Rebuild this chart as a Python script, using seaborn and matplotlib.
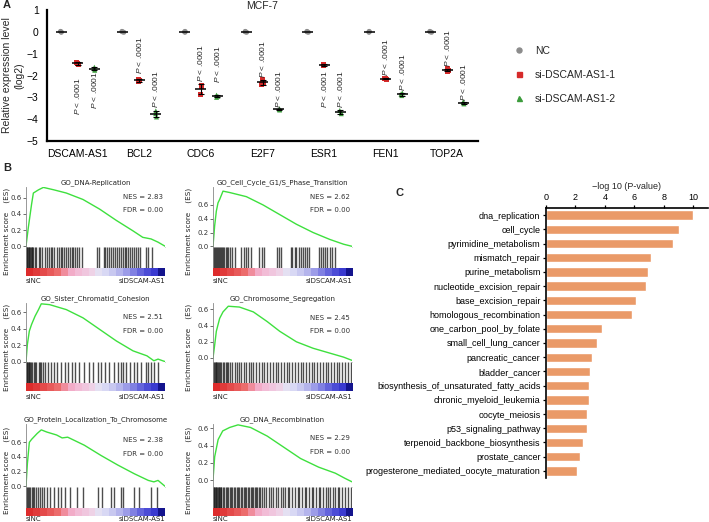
import numpy as np
import pandas as pd
import matplotlib
matplotlib.use("Agg")
import matplotlib.pyplot as plt
from matplotlib.colors import ListedColormap
from matplotlib.lines import Line2D
import seaborn as sns

sns.set_theme(style="white")
plt.rcParams['font.family'] = ['Liberation Sans', 'DejaVu Sans']
plt.rcParams['mathtext.fontset'] = 'custom'
plt.rcParams['mathtext.it'] = 'Liberation Sans:italic'
plt.rcParams['mathtext.rm'] = 'Liberation Sans'

# ---------------- Panel A data ----------------
genes = ["DSCAM-AS1", "BCL2", "CDC6", "E2F7", "ESR1", "FEN1", "TOP2A"]
groups = ["NC", "si-DSCAM-AS1-1", "si-DSCAM-AS1-2"]
nc_vals = [[0.02, 0.0, -0.02], [0.02, 0.0, -0.02], [0.02, 0.0, -0.02], [0.02, 0.0, -0.02],
           [0.02, 0.0, -0.02], [0.02, 0.0, -0.02], [0.02, 0.0, -0.02]]
si1_vals = [[-1.40, -1.45, -1.50], [-2.18, -2.22, -2.28], [-2.45, -2.50, -2.88],
            [-2.20, -2.30, -2.42], [-1.48, -1.52, -1.56], [-2.12, -2.15, -2.18],
            [-1.70, -1.75, -1.80]]
si2_vals = [[-1.62, -1.70, -1.76], [-3.62, -3.75, -3.90], [-2.90, -2.95, -3.00],
            [-3.52, -3.55, -3.58], [-3.60, -3.68, -3.75], [-2.80, -2.85, -2.92],
            [-3.20, -3.25, -3.30]]
p_label = r"$\it{P}$ < .0001"
p_pos_si1 = [-2.93, -1.05, -1.45, -1.25, -2.61, -1.18, -0.73]
p_pos_si2 = [-2.66, -2.61, -1.50, -2.61, -2.61, -1.86, -2.30]

# ---------------- Panel B data ----------------
gsea_titles = ["GO_DNA-Replication", "GO_Cell_Cycle_G1/S_Phase_Transition",
               "GO_Sister_Chromatid_Cohesion", "GO_Chromosome_Segregation",
               "GO_Protein_Localization_To_Chromosome", "GO_DNA_Recombination"]
gsea_nes = ["2.83", "2.62", "2.51", "2.45", "2.38", "2.29"]
gsea_fdr = ["0.00", "0.00", "0.00", "0.00", "0.00", "0.00"]

c1_x = [0, 1.7, 4, 5.3, 9, 12.5, 20, 29, 41, 53, 65, 77, 84, 90, 95, 100]
c1_y = [0, 0.235, 0.52, 0.66, 0.70, 0.73, 0.70, 0.66, 0.58, 0.46, 0.32, 0.19, 0.11, 0.09, 0.05, 0]
c2_x = [0, 1.2, 2.4, 3.6, 4.8, 7.2, 12, 24, 36, 48, 60, 72, 84, 94, 100]
c2_y = [0, 0.30, 0.51, 0.63, 0.68, 0.80, 0.78, 0.72, 0.60, 0.46, 0.32, 0.20, 0.10, 0.03, 0]
c3_x = [0, 1, 2.4, 4, 6.5, 9, 11, 17, 29, 41, 53, 65, 77, 87, 92, 95, 100]
c3_y = [0, 0.21, 0.37, 0.45, 0.55, 0.63, 0.70, 0.69, 0.63, 0.53, 0.39, 0.25, 0.13, 0.07, 0.01, 0.03, 0]
c4_x = [0, 1.2, 2.4, 4.8, 7.2, 11, 19, 29, 39, 48, 60, 72, 84, 94, 100]
c4_y = [0, 0.16, 0.33, 0.49, 0.57, 0.64, 0.63, 0.57, 0.45, 0.33, 0.20, 0.12, 0.06, 0.01, -0.03]
c5_x = [0, 1, 2.4, 4, 8, 11, 15, 22, 26, 30, 42, 54, 66, 78, 88, 92, 95, 100]
c5_y = [0, 0.31, 0.60, 0.64, 0.72, 0.77, 0.74, 0.70, 0.66, 0.67, 0.56, 0.42, 0.29, 0.17, 0.08, 0.06, 0.08, 0]
c6_x = [0, 1.2, 3.7, 7, 12, 18, 27, 39, 51, 63, 76, 88, 95, 100]
c6_y = [0, 0.27, 0.47, 0.57, 0.61, 0.64, 0.61, 0.51, 0.38, 0.25, 0.15, 0.08, 0.02, -0.02]

hits1 = [0, 0.5, 1, 1.5, 2, 2.5, 3, 3.5, 4, 4.5, 5, 6.5, 7.5, 9, 10, 11.5, 14, 15, 16.5, 18, 19,
         20.5, 22, 23.5, 25, 26, 27.5, 29, 30, 31.5, 33, 34, 35, 36.5, 38, 40, 51, 52.5, 56, 57,
         58.5, 60, 61, 62.5, 64, 65.5, 67, 68, 69.5, 71, 72, 73.5, 75, 76.5, 78, 79, 80.5, 82,
         86, 88, 90.5]
hits2 = [0, 0.7, 1.4, 2, 2.7, 3.4, 4, 4.8, 5.5, 6.3, 7, 8, 9, 10, 11, 12.5, 14, 16, 20, 22, 24,
         25.5, 27, 33, 35, 37, 46, 47.5, 49, 56, 57, 59, 60, 62, 63, 64.5, 66, 67.5, 69, 76,
         77.5, 79, 80.5, 82, 84, 85.5, 88]
hits3 = [0, 0.5, 1, 1.5, 2, 2.5, 3, 3.5, 4.5, 5.5, 6.5, 7.5, 9, 10, 11, 12.5, 14, 16, 18, 20,
         22, 25, 28, 30, 33, 35, 38, 42, 45, 48, 52, 54, 57, 60, 63, 66, 68, 70, 72, 75, 78,
         80, 83, 86, 88, 90, 92, 95]
hits4 = [0, 0.6, 1.2, 1.8, 2.4, 3, 3.6, 4.2, 5, 6, 7, 8, 9, 10, 11, 12, 14, 15.5, 17, 18.5,
         20, 22, 24, 26, 27.5, 29, 31, 33, 35, 37, 39, 41, 43, 45, 47, 49, 51, 53, 55, 57,
         59, 61, 63, 65, 67, 69, 71, 73, 75, 77, 79, 81, 83, 85, 87, 89, 91, 93, 95, 97, 99]
hits5 = [0, 0.5, 1.2, 2, 3, 4, 5, 6, 7, 8.5, 10, 11.5, 13, 15, 17.5, 20, 23, 25.5, 28, 32, 37,
         41, 52, 55, 61, 63, 68, 70, 78, 81, 90, 94]
hits6 = [0, 0.5, 1, 1.5, 2, 2.5, 3, 3.5, 4, 4.5, 5, 5.5, 6, 7, 8, 9, 10, 11, 12, 13, 14, 15,
         16, 17, 18, 19, 20, 21, 22, 23, 24, 25, 26, 27, 28, 29, 30, 31, 32, 33, 34, 35, 37,
         38, 40, 42, 43, 45, 47, 49, 50, 52, 54, 55, 57, 59, 61, 62, 64, 66, 67, 69, 71, 72,
         74, 76, 77, 79, 81, 83, 84, 86, 88, 90, 91, 93, 95, 97, 99]
rank_colors = ['#dd2c2c', '#e03a3a', '#e44a4a', '#e85a5a', '#ec6c6c', '#f08c9c', '#f2acc8',
               '#f2bcd6', '#f0c6de', '#eed2e6', '#e4e0f2', '#d8d8f4', '#c8c8f0', '#b4b4ec',
               '#9c9ce8', '#8080e2', '#6464dc', '#4c4cd6', '#3a3ad0', '#14148e']

# ---------------- Panel C data ----------------
pathways = ["dna_replication", "cell_cycle", "pyrimidine_metabolism", "mismatch_repair",
            "purine_metabolism", "nucleotide_excision_repair", "base_excision_repair",
            "homologous_recombination", "one_carbon_pool_by_folate", "small_cell_lung_cancer",
            "pancreatic_cancer", "bladder_cancer", "biosynthesis_of_unsaturated_fatty_acids",
            "chronic_myeloid_leukemia", "oocyte_meiosis", "p53_signaling_pathway",
            "terpenoid_backbone_biosynthesis", "prostate_cancer",
            "progesterone_mediated_oocyte_maturation"]
neglogp = [10.0, 9.05, 8.6, 7.12, 6.94, 6.8, 6.08, 5.83, 3.83, 3.45, 3.13, 3.02, 2.93, 2.9,
           2.79, 2.75, 2.52, 2.31, 2.13]

# ---------------- figure ----------------
W, H = 709, 522
fig = plt.figure(figsize=(W / 100, H / 100), dpi=100)


def px_axes(x0, y0, x1, y1):
    return fig.add_axes([x0 / W, 1 - y1 / H, (x1 - x0) / W, (y1 - y0) / H])


# ---- Panel A ----
axA = px_axes(47, 10, 478, 141)
rows = []
for g, vals in zip(groups, [nc_vals, si1_vals, si2_vals]):
    for gene, reps in zip(genes, vals):
        for v in reps:
            rows.append({"gene": gene, "group": g, "value": v})
df = pd.DataFrame(rows)
pal = {"NC": "#8c8c8c", "si-DSCAM-AS1-1": "#d62a2a", "si-DSCAM-AS1-2": "#3c9c3c"}
markers = ["o", "s", "^"]
for k, g in enumerate(groups):
    sns.stripplot(data=df[df.group == g], x="gene", y="value", hue="group", hue_order=groups,
                  order=genes, dodge=True, palette=pal, marker=markers[k], size=3.6,
                  jitter=0.05, linewidth=0, ax=axA, legend=False, zorder=2)
step = 0.8 / len(groups)
for k, g in enumerate(groups):
    sub = df[df.group == g]
    for i, gene in enumerate(genes):
        v = sub[sub.gene == gene].value.values
        x = i + (k - 1) * step
        m, s = v.mean(), v.std(ddof=1)
        axA.hlines(m, x - 0.09, x + 0.09, color="black", lw=1.1, zorder=3)
        if k > 0:
            axA.errorbar(x, m, yerr=s, fmt="none", ecolor="black", elinewidth=0.8,
                         capsize=2, capthick=0.8, zorder=3)
for i in range(len(genes)):
    axA.text(i, p_pos_si1[i], p_label, rotation=90, ha="center", va="center", fontsize=6)
    axA.text(i + step, p_pos_si2[i], p_label, rotation=90, ha="center", va="center",
             fontsize=6)
axA.set_xlim(-0.5, 6.5)
axA.set_ylim(-5, 1)
axA.set_yticks([-5, -4, -3, -2, -1, 0, 1])
axA.set_yticklabels(["\u22125", "\u22124", "\u22123", "\u22122", "\u22121", "0", "1"])
axA.set_xlabel("")
axA.set_ylabel("Relative expression level\n(log2)", fontsize=7.5, labelpad=2)
for sp in ["top", "right"]:
    axA.spines[sp].set_visible(False)
for sp in ["left", "bottom"]:
    axA.spines[sp].set_linewidth(1.6)
    axA.spines[sp].set_color("black")
axA.tick_params(axis="both", direction="out", length=4, width=1.3, labelsize=7.5, pad=2,
                colors="black")
axA.set_title("MCF-7", fontsize=7.5, pad=1)
handles = [Line2D([], [], marker=m, ls="", color=pal[g], markersize=3.6) for m, g in zip(markers, groups)]
fig.legend(handles, groups, loc="center left", bbox_to_anchor=(505 / W, 1 - 75 / H),
           frameon=False, fontsize=7.5, handlelength=0.8, labelspacing=1.35,
           handletextpad=1.2)
fig.text(3 / W, 1 - 5 / H, "A", fontsize=8, fontweight="bold", va="center", ha="left")

# ---- Panel B ----
fig.text(3 / W, 1 - 168 / H, "B", fontsize=8, fontweight="bold", va="center", ha="left")
cols = [(26, 165), (213, 352)]
rowsB = [(187, 247, 268, 276, 281), (303, 362, 383, 391, 397), (424, 487, 508, 516, 519)]
curves = [(c1_x, c1_y), (c2_x, c2_y), (c3_x, c3_y), (c4_x, c4_y), (c5_x, c5_y), (c6_x, c6_y)]
hits = [hits1, hits2, hits3, hits4, hits5, hits6]
ylims = [(-0.01, 0.735), (-0.01, 0.86), (-0.005, 0.71), (-0.05, 0.68), (-0.01, 0.85), (-0.08, 0.65)]
nes_pos = [(0.84, 0.62), (0.84, 0.62), (0.77, 0.53), (0.75, 0.52), (0.74, 0.53), (0.77, 0.55)]
gfont = ["DejaVu Sans"]
cmap = ListedColormap(rank_colors)
for p in range(6):
    r, c = divmod(p, 2)
    x0, x1 = cols[c]
    t, b, bb, cb, ly = rowsB[r]
    ax = px_axes(x0, t, x1, b)
    sns.lineplot(x=curves[p][0], y=curves[p][1], ax=ax, color="#3ee03e", lw=1.0)
    ax.set_xlim(0, 100)
    ax.set_ylim(*ylims[p])
    ax.set_xticks([])
    ax.set_yticks([0.0, 0.2, 0.4, 0.6])
    ax.set_yticklabels(["0.0", "0.2", "0.4", "0.6"], family=gfont, fontsize=5, color="#333333")
    ax.tick_params(axis="y", length=2, width=0.6, pad=1, color="#555555", left=True)
    for sp in ["top", "right"]:
        ax.spines[sp].set_visible(False)
    ax.spines["left"].set_color("#888888")
    ax.spines["left"].set_linewidth(0.6)
    ax.spines["bottom"].set_color("#bbbbbb")
    ax.spines["bottom"].set_linewidth(0.5)
    ax.set_title(gsea_titles[p], fontsize=5, family=gfont, pad=2, color="#222222")
    ax.text(0.985, nes_pos[p][0], "NES = " + gsea_nes[p], transform=ax.transAxes, ha="right",
            va="center", fontsize=5, family=gfont, color="#333333")
    ax.text(0.985, nes_pos[p][1], "FDR = " + gsea_fdr[p], transform=ax.transAxes, ha="right",
            va="center", fontsize=5, family=gfont, color="#333333")
    # barcode
    axb = px_axes(x0, b, x1, bb)
    sns.rugplot(x=hits[p], height=1, ax=axb, color="#202020", lw=0.7, alpha=0.8)
    axb.set_xlim(0, 100)
    axb.set_ylim(0, 1)
    axb.set_xticks([])
    axb.set_yticks([])
    for sp in axb.spines.values():
        sp.set_visible(False)
    axb.spines["left"].set_visible(True)
    axb.spines["left"].set_color("#888888")
    axb.spines["left"].set_linewidth(0.6)
    # ranked list colour strip
    axc = px_axes(x0, bb, x1, cb)
    axc.imshow([list(range(len(rank_colors)))], cmap=cmap, aspect="auto",
               extent=[0, 100, 0, 1], interpolation="nearest")
    axc.set_axis_off()
    fig.text(x0 / W, 1 - ly / H, "siNC", fontsize=5, family=gfont, ha="left", va="center",
             color="#222222")
    fig.text(x1 / W, 1 - ly / H, "siDSCAM-AS1", fontsize=5, family=gfont, ha="right",
             va="center", color="#222222")
    lx = 6.5 if c == 0 else 189
    fig.text(lx / W, 1 - ((t + bb) / 2 + 4) / H, "Enrichment score    (ES)", rotation=90,
             fontsize=5.2, family=gfont, ha="center", va="center", color="#222222")

# ---- Panel C ----
axC = px_axes(546, 208, 708, 478)
sns.barplot(x=neglogp, y=pathways, orient="h", color="#EA9A68", width=0.66, ax=axC,
            saturation=1)
axC.set_xlim(0, 11)
axC.set_xticks([0, 2, 4, 6, 8, 10])
axC.xaxis.tick_top()
axC.xaxis.set_label_position("top")
axC.set_xlabel("\u2212log 10 (P-value)", fontsize=6.5, labelpad=3)
axC.set_ylabel("")
for sp in ["bottom", "right"]:
    axC.spines[sp].set_visible(False)
for sp in ["top", "left"]:
    axC.spines[sp].set_linewidth(1.2)
    axC.spines[sp].set_color("black")
axC.tick_params(axis="both", direction="out", length=2.5, width=0.9, labelsize=6.5, pad=1.5,
                colors="black")
axC.tick_params(axis="x", top=True, bottom=False)
axC.tick_params(axis="y", left=True)
fig.text(395 / W, 1 - 193 / H, "C", fontsize=8, fontweight="bold", va="center", ha="left")

fig.savefig("out.png", dpi=100)
